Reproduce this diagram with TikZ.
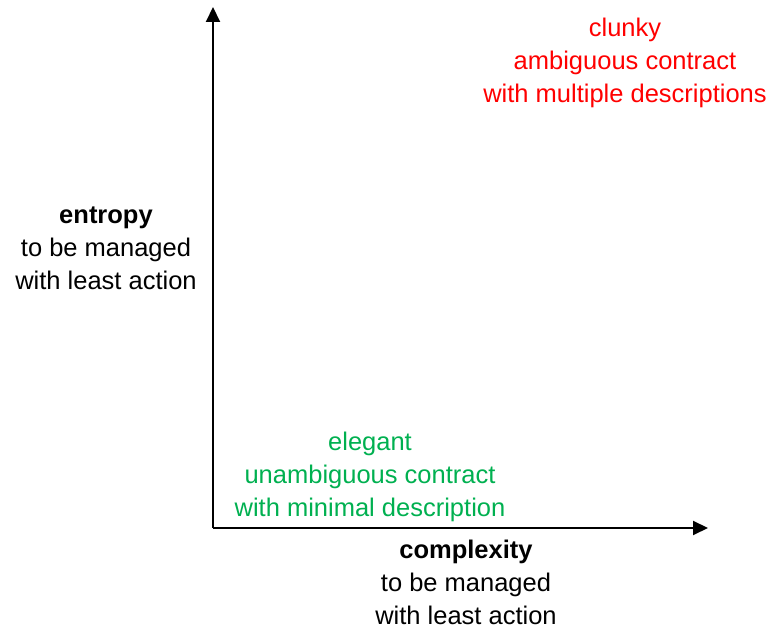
\documentclass[tikz,border=0pt]{standalone}
\usepackage{fontspec}
\setmainfont{Liberation Sans}
\usetikzlibrary{arrows.meta}
\definecolor{goodgreen}{HTML}{00B050}
\definecolor{badred}{HTML}{FF0000}
\tikzset{
  axis/.style={line width=2pt, -{Triangle[length=15pt,width=14pt]}},
  % multi-line labels are placed by the baseline of their last line
  lbl/.style={inner sep=0pt, align=center, anchor=base,
    font=\fontsize{25.5}{33}\selectfont},
}
\begin{document}
\begin{tikzpicture}[x=1pt,y=1pt]
  \useasboundingbox (0,0) rectangle (771,631);
  % axes
  \coordinate (origin) at (213,103);
  \coordinate (ytop) at (213,624);
  \coordinate (xend) at (708,103);
  \draw[axis] (origin) -- (ytop);
  \draw[axis] (origin) -- (xend);
  % axis titles
  \node[lbl] (ylabel) at (106,341) {\textbf{entropy}\\to be managed\\with least action};
  \node[lbl] (xlabel) at (466,6) {\textbf{complexity}\\to be managed\\with least action};
  % corner annotations
  \node[lbl, text=badred] (clunky) at (625,528) {clunky\\ambiguous contract\\with multiple descriptions};
  \node[lbl, text=goodgreen] (elegant) at (370,114) {elegant\\unambiguous contract\\with minimal description};
\end{tikzpicture}
\end{document}
